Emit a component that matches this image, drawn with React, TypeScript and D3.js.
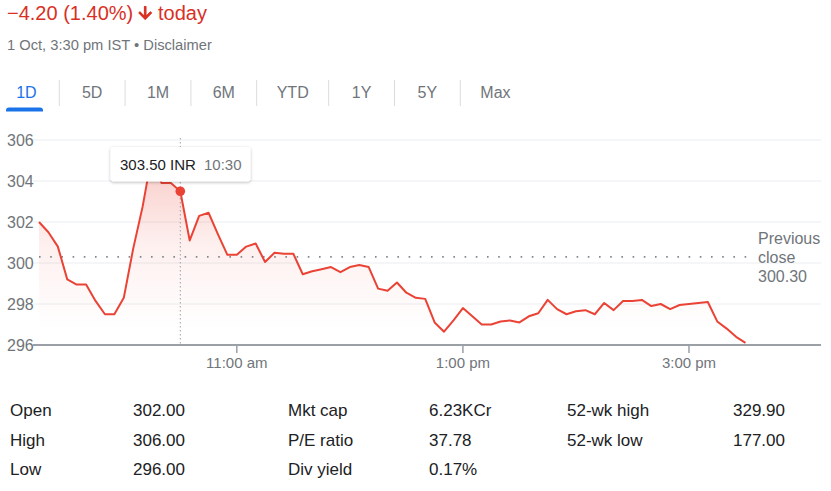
import React, { useEffect, useRef } from 'react';
import * as d3 from 'd3';

// ---- data ----
const startMinute = 9 * 60 + 15; // 9:15 am
const stepMinutes = 5;
const prices = [
  302.0, 301.5, 300.8, 299.2, 298.95, 298.95, 298.15, 297.5, 297.5, 298.3,
  300.7, 302.75, 305.3, 303.9, 303.9, 303.5, 301.1, 302.3, 302.45, 301.4,
  300.4, 300.4, 300.8, 300.95, 300.05, 300.5, 300.45, 300.45, 299.45, 299.6,
  299.7, 299.8, 299.55, 299.8, 299.9, 299.8, 298.75, 298.65, 299.05, 298.55,
  298.3, 298.25, 297.1, 296.65, 297.2, 297.8, 297.4, 297.0, 297.0, 297.15,
  297.2, 297.1, 297.4, 297.55, 298.2, 297.75, 297.5, 297.65, 297.7, 297.5,
  298.05, 297.7, 298.15, 298.15, 298.2, 297.9, 298.0, 297.75, 297.95, 298.0,
  298.05, 298.1, 297.15, 296.8, 296.4, 296.1,
];
const yTicks = [296, 298, 300, 302, 304, 306];
const xTickMinutes = [11 * 60, 13 * 60, 15 * 60];
const xTickLabels = ['11:00 am', '1:00 pm', '3:00 pm'];
const sessionEndMinute = 15 * 60 + 30;
const previousClose = 300.3;
const previousCloseLines = ['Previous', 'close', '300.30'];
const hoverIndex = 15;
const hoverPriceLabel = '303.50 INR';
const hoverTimeLabel = '10:30';
const headerChange = '\u22124.20 (1.40%)';
const headerToday = 'today';
const subline = '1 Oct, 3:30 pm IST \u2022 Disclaimer';
const tabs = ['1D', '5D', '1M', '6M', 'YTD', '1Y', '5Y', 'Max'];
const statLabels = [
  ['Open', 'High', 'Low'],
  ['Mkt cap', 'P/E ratio', 'Div yield'],
  ['52-wk high', '52-wk low'],
];
const statValues = [
  ['302.00', '306.00', '296.00'],
  ['6.23KCr', '37.78', '0.17%'],
  ['329.90', '177.00'],
];

const FONT = '"Liberation Sans", Arial, sans-serif';
const RED = '#ea4335';
const RED_TEXT = '#d93025';
const GRAY = '#70757a';
const DARK = '#202124';

export default function App() {
  const ref = useRef<SVGSVGElement>(null);

  useEffect(() => {
    const svg = d3.select(ref.current);
    svg.selectAll('*').remove();
    svg.style('font-family', FONT);

    const defs = svg.append('defs');
    const grad = defs
      .append('linearGradient')
      .attr('id', 'areaGrad')
      .attr('gradientUnits', 'userSpaceOnUse')
      .attr('x1', 0)
      .attr('x2', 0)
      .attr('y1', 140)
      .attr('y2', 330);
    grad.append('stop').attr('offset', 0).attr('stop-color', RED).attr('stop-opacity', 0.32);
    grad.append('stop').attr('offset', 0.55).attr('stop-color', RED).attr('stop-opacity', 0.08);
    grad.append('stop').attr('offset', 1).attr('stop-color', RED).attr('stop-opacity', 0);
    const filt = defs
      .append('filter')
      .attr('id', 'shadow')
      .attr('x', '-20%')
      .attr('y', '-40%')
      .attr('width', '140%')
      .attr('height', '180%');
    filt
      .append('feDropShadow')
      .attr('dx', 0)
      .attr('dy', 1)
      .attr('stdDeviation', 1.5)
      .attr('flood-color', '#000')
      .attr('flood-opacity', 0.28);

    // ---- header ----
    svg
      .append('text')
      .attr('x', 7)
      .attr('y', 19.5)
      .attr('font-size', 20)
      .attr('fill', RED_TEXT)
      .text(headerChange);
    svg
      .append('path')
      .attr('d', 'M20 12l-1.41-1.41L13 16.17V4h-2v12.17l-5.58-5.59L4 12l8 8 8-8z')
      .attr('fill', RED_TEXT)
      .attr('stroke', RED_TEXT)
      .attr('stroke-width', 1.3)
      .attr('stroke-linejoin', 'round')
      .attr('transform', 'translate(135.6,3.4) scale(0.8)');
    svg
      .append('text')
      .attr('x', 158)
      .attr('y', 19.5)
      .attr('font-size', 20)
      .attr('fill', RED_TEXT)
      .text(headerToday);
    svg
      .append('text')
      .attr('x', 7)
      .attr('y', 50)
      .attr('font-size', 14.7)
      .attr('fill', GRAY)
      .text(subline);

    // ---- tabs ----
    let cursor = -6.5;
    const tabG = svg.append('g');
    tabs.forEach((t, i) => {
      const txt = tabG
        .append('text')
        .attr('y', 98)
        .attr('font-size', 16)
        .attr('text-anchor', 'middle')
        .attr('fill', i === 0 ? '#1a73e8' : GRAY)
        .text(t);
      const w = (txt.node() as SVGTextElement).getComputedTextLength();
      const tabW = Math.max(65.8, w + 40);
      txt.attr('x', cursor + tabW / 2);
      if (i === 0) {
        const x0 = 6;
        const x1 = 43;
        const r = 3;
        tabG
          .append('path')
          .attr(
            'd',
            `M${x0},111.5 V${107.5 + r} Q${x0},107.5 ${x0 + r},107.5 H${x1 - r} Q${x1},107.5 ${x1},${107.5 + r} V111.5 Z`
          )
          .attr('fill', '#1a73e8');
      }
      cursor += tabW;
      if (i < tabs.length - 1) {
        tabG
          .append('line')
          .attr('x1', cursor)
          .attr('x2', cursor)
          .attr('y1', 80)
          .attr('y2', 106)
          .attr('stroke', '#dadce0')
          .attr('stroke-width', 1);
      }
    });

    // ---- chart ----
    const left = 33;
    const right = 821;
    const x = d3
      .scaleLinear()
      .domain([startMinute, sessionEndMinute])
      .range([39, 745.5]);
    const y = d3.scaleLinear().domain([296, 306]).range([345, 140]);
    const pts = prices.map((p, i) => ({ t: startMinute + i * stepMinutes, p }));

    // gridlines
    svg
      .append('g')
      .selectAll('line')
      .data(yTicks.filter((v) => v !== 296))
      .join('line')
      .attr('x1', left)
      .attr('x2', right)
      .attr('y1', (d) => y(d))
      .attr('y2', (d) => y(d))
      .attr('stroke', '#f1f3f4')
      .attr('stroke-width', 1.5);

    // y labels
    svg
      .append('g')
      .selectAll('text')
      .data(yTicks)
      .join('text')
      .attr('x', 7)
      .attr('y', (d) => y(d) + 5.6)
      .attr('font-size', 16)
      .attr('fill', GRAY)
      .text((d) => String(d));

    // area
    const area = d3
      .area<{ t: number; p: number }>()
      .x((d) => x(d.t))
      .y0(y(296))
      .y1((d) => y(d.p));
    svg.append('path').datum(pts).attr('d', area).attr('fill', 'url(#areaGrad)');

    // previous close line
    svg
      .append('line')
      .attr('x1', 39)
      .attr('x2', 752)
      .attr('y1', y(previousClose))
      .attr('y2', y(previousClose))
      .attr('stroke', '#80868b')
      .attr('stroke-width', 1.6)
      .attr('stroke-dasharray', '1.6,9.6');
    previousCloseLines.forEach((l, i) => {
      svg
        .append('text')
        .attr('x', 758)
        .attr('y', 244 + i * 19)
        .attr('font-size', 16)
        .attr('fill', GRAY)
        .text(l);
    });

    // crosshair
    const hx = x(pts[hoverIndex].t);
    svg
      .append('line')
      .attr('x1', hx)
      .attr('x2', hx)
      .attr('y1', 138)
      .attr('y2', 345)
      .attr('stroke', '#9aa0a6')
      .attr('stroke-width', 1)
      .attr('stroke-dasharray', '1.5,2.5');

    // line
    const line = d3
      .line<{ t: number; p: number }>()
      .x((d) => x(d.t))
      .y((d) => y(d.p));
    svg
      .append('path')
      .datum(pts)
      .attr('d', line)
      .attr('fill', 'none')
      .attr('stroke', RED)
      .attr('stroke-width', 2)
      .attr('stroke-linejoin', 'round');

    // axis
    svg
      .append('line')
      .attr('x1', left)
      .attr('x2', right)
      .attr('y1', 345)
      .attr('y2', 345)
      .attr('stroke', '#9aa0a6')
      .attr('stroke-width', 2);
    const xt = svg.append('g');
    xTickMinutes.forEach((m, i) => {
      xt.append('line')
        .attr('x1', x(m))
        .attr('x2', x(m))
        .attr('y1', 345)
        .attr('y2', 353)
        .attr('stroke', '#9aa0a6')
        .attr('stroke-width', 1.5);
      xt.append('text')
        .attr('x', x(m))
        .attr('y', 367.5)
        .attr('text-anchor', 'middle')
        .attr('font-size', 15)
        .attr('fill', GRAY)
        .text(xTickLabels[i]);
    });

    // hover dot
    svg
      .append('circle')
      .attr('cx', hx)
      .attr('cy', y(pts[hoverIndex].p))
      .attr('r', 4.8)
      .attr('fill', RED);

    // tooltip
    const tip = svg.append('g');
    tip
      .append('rect')
      .attr('x', 110.5)
      .attr('y', 147)
      .attr('width', 140)
      .attr('height', 34.5)
      .attr('rx', 3)
      .attr('fill', '#fff')
      .attr('filter', 'url(#shadow)');
    tip
      .append('text')
      .attr('x', 120)
      .attr('y', 170)
      .attr('font-size', 15)
      .attr('fill', DARK)
      .text(hoverPriceLabel);
    tip
      .append('text')
      .attr('x', 204)
      .attr('y', 170)
      .attr('font-size', 15)
      .attr('fill', GRAY)
      .text(hoverTimeLabel);

    // ---- stats ----
    const labelX = [10, 288, 567];
    const valueX = [133, 429, 733];
    const rowY = [416, 445.5, 475];
    statLabels.forEach((col, c) => {
      col.forEach((lab, r) => {
        svg
          .append('text')
          .attr('x', labelX[c])
          .attr('y', rowY[r])
          .attr('font-size', 17)
          .attr('fill', DARK)
          .text(lab);
        svg
          .append('text')
          .attr('x', valueX[c])
          .attr('y', rowY[r])
          .attr('font-size', 17)
          .attr('fill', DARK)
          .text(statValues[c][r]);
      });
    });
  }, []);

  return (
    <svg
      ref={ref}
      width={831}
      height={491}
      style={{ position: 'absolute', left: 0, top: 0, background: '#fff' }}
    />
  );
}
